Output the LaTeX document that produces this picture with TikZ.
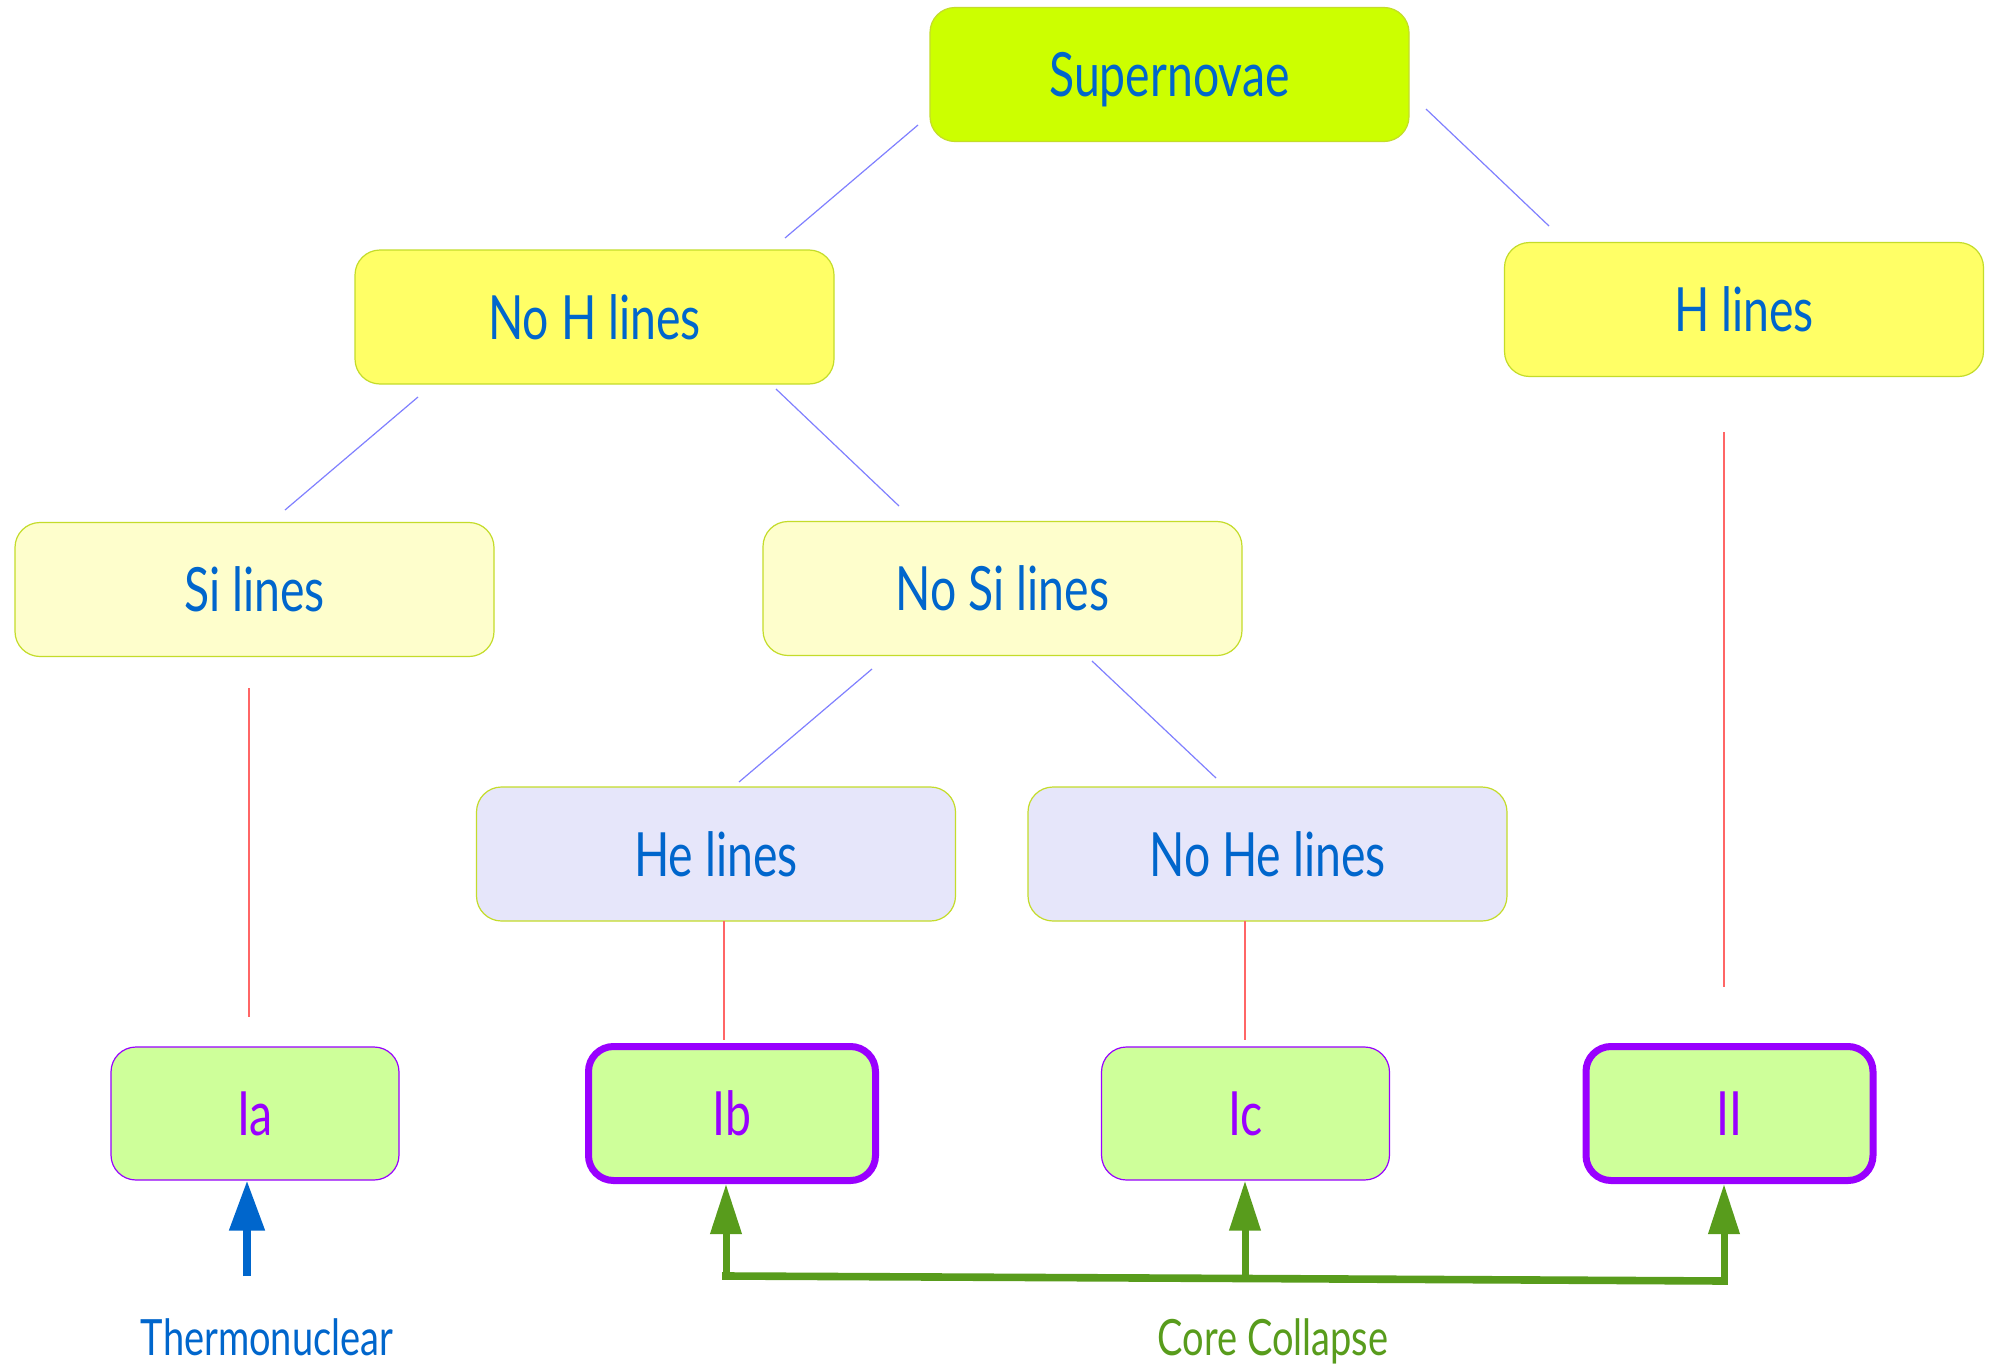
\documentclass[tikz,border=0pt]{standalone}
\usepackage{fontspec}
\setmainfont[FakeStretch=0.76]{Lato}
\usetikzlibrary{arrows.meta}
\definecolor{txtblue}{HTML}{0066CC}
\definecolor{purp}{HTML}{9900FF}
\definecolor{sncol}{HTML}{CCFF00}
\definecolor{hcol}{HTML}{FFFF66}
\definecolor{sicol}{HTML}{FEFECC}
\definecolor{hecol}{HTML}{E6E6FA}
\definecolor{typecol}{HTML}{CEFF9A}
\definecolor{edgecol}{HTML}{C4DC2A}
\definecolor{linkblue}{HTML}{8080FF}
\definecolor{linkred}{HTML}{FF6666}
\definecolor{ccgreen}{HTML}{589C1C}
\tikzset{
  box/.style={rounded corners=12.5pt, draw=edgecol, line width=0.6pt,
    minimum width=239.5pt, minimum height=67pt, inner sep=0pt,
    text height=22pt, text depth=0pt, font=\fontsize{30.5}{36}\selectfont, text=txtblue},
  typebox/.style={box, fill=typecol, draw=purp, text=purp, minimum width=144pt, minimum height=66.5pt},
  typethick/.style={typebox, line width=3.5pt, minimum width=143.5pt, minimum height=67pt},
  blink/.style={draw=linkblue, line width=0.6pt},
  rlink/.style={draw=linkred, line width=0.6pt},
  barrow/.style={draw=txtblue, line width=4pt, -{Triangle[length=25pt,width=17pt]}},
  garrow/.style={draw=ccgreen, line width=3.5pt, -{Triangle[length=25pt,width=15pt]}},
  gbar/.style={draw=ccgreen, line width=3.8pt, line cap=rect},
  caption/.style={font=\fontsize{25}{30}\selectfont, inner sep=0pt, text height=18pt, text depth=0pt}
}
\begin{document}
\begin{tikzpicture}[x=0.5pt,y=-0.5pt]
\path[use as bounding box, fill=white] (0,0) rectangle (1994,1365);
% boxes
\node[box, fill=sncol] (sn) at (1169.5,74.5) {Supernovae};
\node[box, fill=hcol] (noh) at (594.5,317) {No H lines};
\node[box, fill=hcol] (h) at (1744,309.5) {H lines};
\node[box, fill=sicol] (si) at (254.5,589.5) {Si lines};
\node[box, fill=sicol] (nosi) at (1002.5,588.5) {No Si lines};
\node[box, fill=hecol] (he) at (716,854) {He lines};
\node[box, fill=hecol] (nohe) at (1267.5,854) {No He lines};
\node[typebox] (ia) at (255,1113.5) {Ia};
\node[typethick] (ib) at (732,1113.5) {Ib};
\node[typebox] (ic) at (1245.5,1113.5) {Ic};
\node[typethick] (ii) at (1729.5,1113.5) {II};
% connector end points
\coordinate (a1) at (918,125);  \coordinate (a2) at (785,238);
\coordinate (b1) at (1426,109); \coordinate (b2) at (1549,226);
\coordinate (c1) at (418,397);  \coordinate (c2) at (285,510);
\coordinate (d1) at (776,389);  \coordinate (d2) at (899,506);
\coordinate (e1) at (872,669);  \coordinate (e2) at (739,782);
\coordinate (f1) at (1092,661); \coordinate (f2) at (1216,778);
\coordinate (g1) at (249,688);  \coordinate (g2) at (249,1017);
\coordinate (k1) at (724,921);  \coordinate (k2) at (724,1040);
\coordinate (m1) at (1245,921); \coordinate (m2) at (1245,1040);
\coordinate (n1) at (1724,432); \coordinate (n2) at (1724,987);
\draw[blink] (a1) -- (a2);
\draw[blink] (b1) -- (b2);
\draw[blink] (c1) -- (c2);
\draw[blink] (d1) -- (d2);
\draw[blink] (e1) -- (e2);
\draw[blink] (f1) -- (f2);
\draw[rlink] (g1) -- (g2);
\draw[rlink] (k1) -- (k2);
\draw[rlink] (m1) -- (m2);
\draw[rlink] (n1) -- (n2);
% thermonuclear
\coordinate (tn) at (247,1276);
\draw[barrow] (tn) -- (tn |- ia.south);
\node[caption, text=txtblue] (thermo) at (267,1337) {Thermonuclear};
% core collapse
\coordinate (bl) at (726,1276);
\coordinate (bm) at (1245,1278.5);
\coordinate (br) at (1724,1281);
\draw[gbar] (bl) -- (bm) -- (br);
\draw[garrow] (bl) -- (bl |- ib.south);
\draw[garrow] (bm) -- (bm |- ic.south);
\draw[garrow] (br) -- (br |- ii.south);
\node[caption, text=ccgreen] (cc) at (1273,1337) {Core Collapse};
\end{tikzpicture}
\end{document}
